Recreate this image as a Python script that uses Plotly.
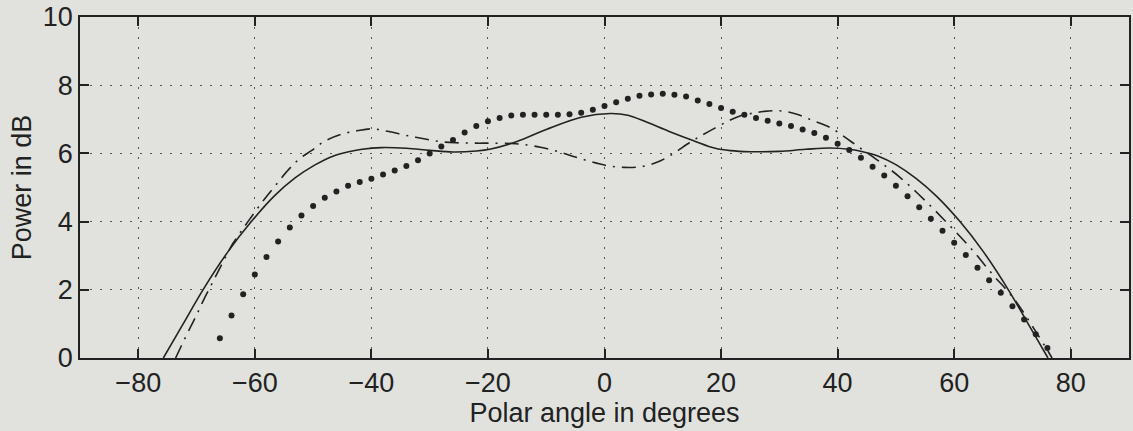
import plotly.graph_objects as go

# ---- data ----
solid_x = [-75.7, -72.4, -68.9, -64.6, -60.6, -56.6, -53.1, -49.6, -46.6, -44.1, -41.6, -38.3,
           -34.0, -30.0, -26.0, -22.0, -19.5, -15.0, -10.0, -4.0, 1.0, 4.0, 7.3, 11.0,
           15.3, 19.0, 21.6, 25.0, 30.0, 34.5, 38.7, 42.0, 44.5, 47.0, 50.0, 53.5, 57.0,
           61.0, 65.0, 69.3, 72.8, 76.1]
solid_y = [0.0, 0.97, 2.0, 3.12, 4.0, 4.76, 5.28, 5.67, 5.92, 6.04, 6.12, 6.17,
           6.15, 6.09, 6.04, 6.07, 6.13, 6.35, 6.7, 7.06, 7.17, 7.12, 6.91, 6.65,
           6.37, 6.15, 6.08, 6.05, 6.06, 6.12, 6.16, 6.12, 6.04, 5.92, 5.67, 5.26, 4.74,
           4.0, 3.12, 2.0, 0.97, 0.0]

dashdot_x = [-73.6, -72.6, -71.3, -70.0, -68.8, -67.5, -66.2, -64.9, -63.8, -62.0, -60.0, -58.3,
             -56.5, -54.6, -52.5, -50.3, -48.0, -45.2, -42.3, -39.8, -37.0, -34.1, -31.0, -28.0,
             -25.0, -22.0, -19.5, -16.0, -13.8, -11.0, -8.1, -5.3, -2.4, 0.5, 3.3, 6.2, 9.0,
             11.3, 14.7, 16.4, 18.7, 21.6, 23.6, 25.5, 27.3, 30.0, 33.0, 35.8, 38.7, 41.3,
             43.5, 46.7, 50.7, 54.8, 58.8, 62.8, 66.6, 70.2, 74.1, 76.8]
dashdot_y = [0.0, 0.36, 0.82, 1.26, 1.7, 2.13, 2.57, 3.0, 3.35, 3.8, 4.28, 4.67,
             5.05, 5.45, 5.82, 6.08, 6.36, 6.56, 6.67, 6.72, 6.64, 6.53, 6.43, 6.34,
             6.31, 6.30, 6.30, 6.29, 6.26, 6.18, 6.06, 5.91, 5.76, 5.64, 5.59, 5.61, 5.74,
             5.94, 6.33, 6.5, 6.72, 6.98, 7.12, 7.18, 7.23, 7.25, 7.15, 6.96, 6.76, 6.47,
             6.2, 5.82, 5.3, 4.65, 3.96, 3.23, 2.45, 1.75, 0.75, 0.0]

dots_x = [-66, -64, -62, -60, -58, -56, -54, -52, -50, -48, -46, -44, -42, -40, -38, -36,
          -34, -32, -30, -28, -26, -24, -22, -20, -18, -16, -14, -12, -10, -8, -6, -4,
          -2, 0, 2, 4, 6, 8, 10, 12, 14, 16, 18, 20, 22, 24, 26, 28, 30, 32, 34, 36,
          38, 40, 42, 44, 46, 48, 50, 52, 54, 56, 58, 60, 62, 64, 66, 68, 70, 72, 74, 76]
dots_y = [0.58, 1.25, 1.87, 2.45, 2.96, 3.42, 3.83, 4.18, 4.46, 4.70, 4.88, 5.05, 5.16, 5.26,
          5.38, 5.50, 5.63, 5.80, 6.00, 6.20, 6.39, 6.61, 6.80, 6.94, 7.04, 7.11, 7.13, 7.13,
          7.13, 7.13, 7.15, 7.19, 7.28, 7.39, 7.50, 7.60, 7.69, 7.73, 7.75, 7.72, 7.67, 7.55,
          7.45, 7.33, 7.22, 7.13, 7.04, 6.96, 6.88, 6.80, 6.70, 6.60, 6.46, 6.28, 6.10, 5.87,
          5.61, 5.35, 5.05, 4.74, 4.42, 4.08, 3.73, 3.38, 3.02, 2.65, 2.28, 1.91, 1.52, 1.13,
          0.70, 0.29]

x_ticks = [-80, -60, -40, -20, 0, 20, 40, 60, 80]
y_ticks = [0, 2, 4, 6, 8, 10]
x_title = "Polar angle in degrees"
y_title = "Power in dB"

ink = "#222222"
bg = "#e1e2de"
font_family = "Liberation Sans, Arial, Helvetica, sans-serif"

fig = go.Figure()
fig.add_trace(go.Scatter(x=solid_x, y=solid_y, mode="lines",
                         line=dict(color=ink, width=1.6, shape="spline", smoothing=1.0),
                         showlegend=False, hoverinfo="skip"))
fig.add_trace(go.Scatter(x=dashdot_x, y=dashdot_y, mode="lines",
                         line=dict(color=ink, width=1.6, shape="spline", smoothing=1.0,
                                   dash="14px,7px,2px,7px"),
                         showlegend=False, hoverinfo="skip"))
fig.add_trace(go.Scatter(x=dots_x, y=dots_y, mode="markers",
                         marker=dict(color=ink, size=6, line=dict(width=0)),
                         showlegend=False, hoverinfo="skip"))

axis_common = dict(
    showline=True, linecolor=ink, linewidth=1.5, mirror="ticks",
    ticks="inside", ticklen=9, tickwidth=1.5, tickcolor=ink,
    showgrid=True, gridcolor="#555555", gridwidth=1.2, griddash="1.5px,8.5px",
    zeroline=False,
    tickfont=dict(family=font_family, size=27, color=ink),
)

fig.update_layout(
    width=1133, height=431,
    margin=dict(l=80, r=2, t=16, b=73),
    paper_bgcolor=bg, plot_bgcolor=bg,
    font=dict(family=font_family, size=27, color=ink),
    xaxis=dict(range=[-90, 90], tickvals=x_ticks,
               title=dict(text=x_title, font=dict(size=27), standoff=1),
               **axis_common),
    yaxis=dict(range=[0, 10], tickvals=y_ticks,
               title=dict(text=y_title, font=dict(size=27), standoff=3),
               **axis_common),
)

fig.write_html("out.html")
